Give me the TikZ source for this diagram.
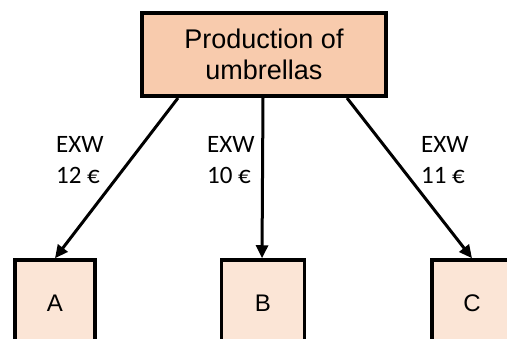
\documentclass[tikz,border=0pt]{standalone}
\usepackage{fontspec}
\setmainfont{Liberation Sans}
\newfontfamily\labelfont{Carlito}
\usetikzlibrary{arrows.meta}

\definecolor{prodfill}{HTML}{F8CBAD}
\definecolor{destfill}{HTML}{FBE5D6}

\tikzset{
    prodbox/.style={draw, line width=4pt, fill=prodfill, minimum width=244pt, minimum height=83pt, align=center, font=\fontsize{27}{31}\selectfont},
    destbox/.style={draw, line width=3.5pt, fill=destfill, minimum width=80pt, minimum height=86pt, font=\fontsize{24}{28}\selectfont},
    pricelabel/.style={anchor=west, align=left, inner sep=0pt, font=\labelfont\fontsize{25}{31}\selectfont},
    flow/.style={line width=3pt, -{Triangle[length=13pt,width=12pt]}}
}

\begin{document}
\begin{tikzpicture}[x=1pt, y=-1pt]
    \clip (0, 0) rectangle (507, 339);
    \fill[white] (0, 0) rectangle (507, 339);

    \node[prodbox] (prod) at (264, 54.5) {Production of\\umbrellas};
    \node[destbox] (a) at (55, 303) {A};
    \node[destbox, minimum width=83pt] (b) at (263, 303) {B};
    \node[destbox] (c) at (472, 303) {C};

    \node[pricelabel] (pa) at (56, 160) {EXW\\12 €};
    \node[pricelabel] (pb) at (207, 160) {EXW\\10 €};
    \node[pricelabel] (pc) at (421, 160) {EXW\\11 €};

    \draw[flow] ([xshift=-86pt]prod.south) -- (a.north);
    \draw[flow] ([xshift=-1pt]prod.south) -- ([xshift=-1pt]b.north);
    \draw[flow] ([xshift=83pt]prod.south) -- (c.north);
\end{tikzpicture}
\end{document}
